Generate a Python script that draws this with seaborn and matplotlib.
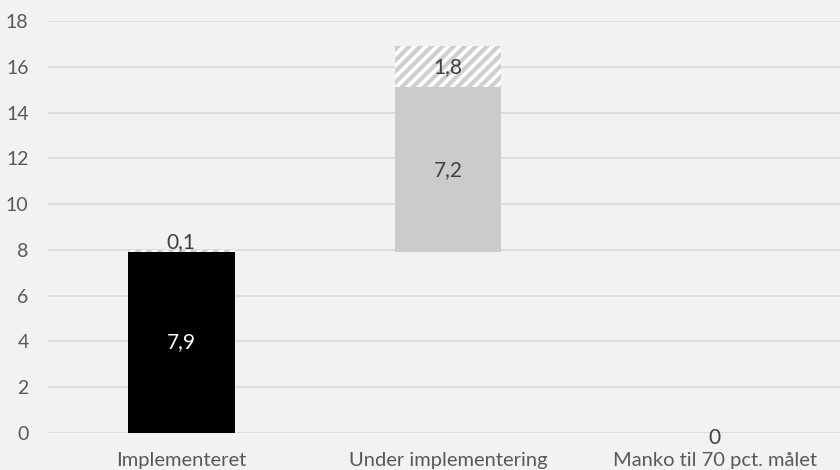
import matplotlib
matplotlib.use("Agg")
import matplotlib.pyplot as plt
import seaborn as sns
import pandas as pd

categories = ["Implementeret", "Under implementering", "Manko til 70 pct. målet"]
solid_values = [7.9, 7.2, 0.0]
solid_bottoms = [0.0, 7.9, 0.0]
hatch_values = [0.1, 1.8, 0.0]
solid_labels = ["7,9", "7,2", "0"]
hatch_labels = ["0,1", "1,8"]
yticks = [0, 2, 4, 6, 8, 10, 12, 14, 16, 18]

BG = "#F2F2F2"
sns.set_theme(style="white")
plt.rcParams["font.family"] = ["Lato", "DejaVu Sans"]
plt.rcParams["hatch.color"] = "#CFCFCF"
plt.rcParams["hatch.linewidth"] = 3.0

fig = plt.figure(figsize=(8.4, 4.7), dpi=100, facecolor=BG)
ax = fig.add_axes([48 / 840, 37 / 470, 800 / 840, 412 / 470], facecolor=BG)

df = pd.DataFrame({"cat": categories, "solid": solid_values, "bottom": solid_bottoms,
                   "hatch": hatch_values})

# first bar (from zero) through seaborn to build the categorical axis
first = [solid_values[0], 0, 0]
sns.barplot(x=df["cat"], y=first, color="black", width=0.4, ax=ax, zorder=3,
            saturation=1, linewidth=0)

# gray floating segment for bar 2
ax.bar(1, solid_values[1], bottom=solid_bottoms[1], width=0.4, color="#CCCACA",
       linewidth=0, zorder=3)

# hatched increments
tops = [b + v for b, v in zip(solid_bottoms, solid_values)]
for i in range(2):
    ax.bar(i, hatch_values[i], bottom=tops[i], width=0.4, facecolor="white",
           edgecolor="#CFCFCF", hatch="///", linewidth=0, zorder=3)

LBL = 15
ax.text(0, solid_values[0] / 2, solid_labels[0], ha="center", va="center",
        color="white", fontsize=LBL, zorder=5)
ax.text(1, solid_bottoms[1] + solid_values[1] / 2, solid_labels[1], ha="center",
        va="center", color="#404040", fontsize=LBL, zorder=5)
ax.text(2, -0.2, solid_labels[2], ha="center", va="center", color="#404040",
        fontsize=LBL, zorder=5)
ax.text(0, tops[0] + hatch_values[0] + 0.35, hatch_labels[0], ha="center",
        va="center", color="#404040", fontsize=LBL, zorder=5)
ax.text(1, tops[1] + hatch_values[1] / 2, hatch_labels[1], ha="center",
        va="center", color="#404040", fontsize=LBL, zorder=5)

ax.set_xlim(-0.5, 2.5)
ax.set_ylim(0, 18)
ax.set_yticks(yticks)
ax.set_yticklabels([str(t) for t in yticks])
ax.yaxis.grid(True, color="#D9D9D9", linewidth=1.2, zorder=0)
ax.set_axisbelow(True)
for s in ax.spines.values():
    s.set_visible(False)
ax.tick_params(axis="y", length=0, pad=14, labelsize=14, labelcolor="#595959")
ax.tick_params(axis="x", length=0, pad=14, labelsize=14.5, labelcolor="#595959")
ax.set_xlabel("")
ax.set_ylabel("")

fig.savefig("out.png", dpi=100, facecolor=BG)
